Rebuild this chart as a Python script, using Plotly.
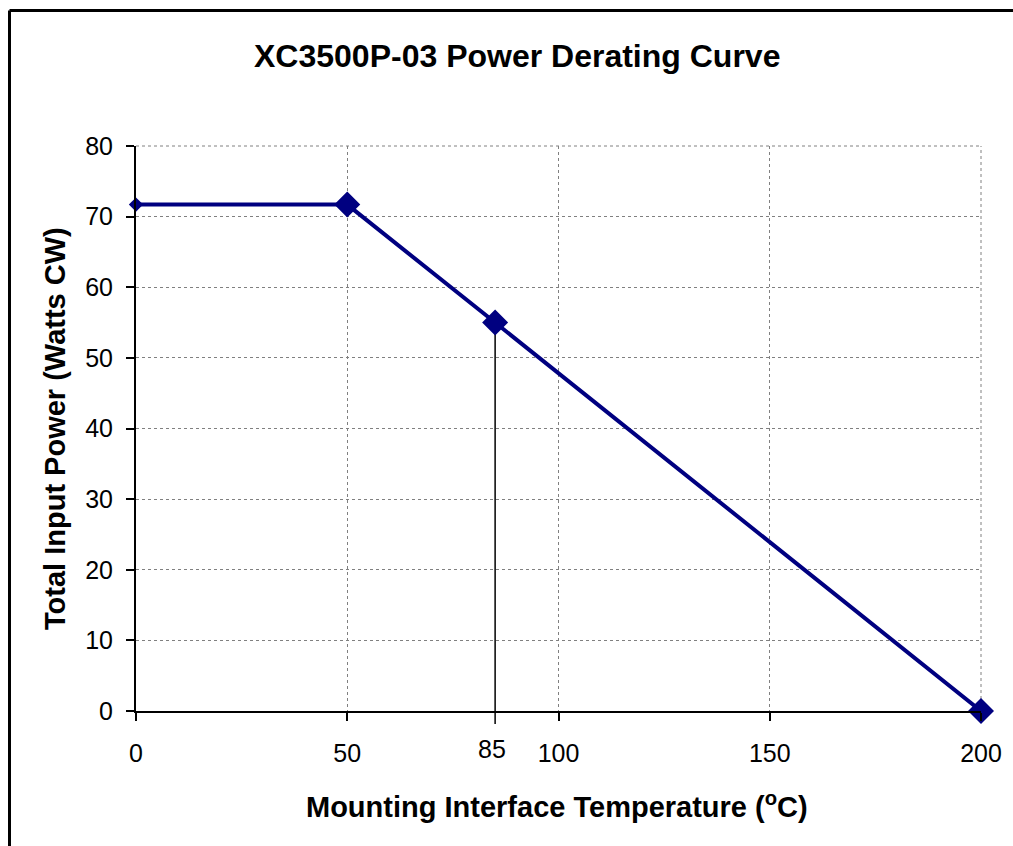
import plotly.graph_objects as go

# Data
temps = [0, 50, 85, 200]
power = [71.7, 71.7, 55.0, 0.0]
x_ticks = [0, 50, 100, 150, 200]
x_tick_labels = ["0", "50", "100", "150", "200"]
y_ticks = [0, 10, 20, 30, 40, 50, 60, 70, 80]
marker_temp = 85
marker_line_top = 56.6
x_range = [0, 200]
y_range = [0, 80]

title_text = "XC3500P-03 Power Derating Curve"
x_title = "Mounting Interface Temperature (<sup>o</sup>C)"
y_title = "Total Input Power (Watts CW)"

FONT = "Liberation Sans, Arial, sans-serif"
W, H = 1013, 846
# plot area in page pixels: x 136..981, y 146..711
L, T = 136, 146
R, B = W - 981, H - 711
PW, PH = W - L - R, H - T - B

def px_x(p):
    return (p - L) / PW

def px_y(p):
    return (H - B - p) / PH

fig = go.Figure()
fig.add_trace(go.Scatter(
    x=temps, y=power, mode="lines+markers",
    line=dict(color="#000080", width=4),
    marker=dict(symbol="diamond", color="#000080", size=[11, 20, 20, 20],
                opacity=1, line=dict(width=0)),
    cliponaxis=False, showlegend=False, hoverinfo="x+y",
))

fig.update_layout(
    width=W, height=H,
    margin=dict(l=L, r=R, t=T, b=B, autoexpand=False),
    paper_bgcolor="white", plot_bgcolor="white",
    font=dict(family=FONT, color="black", size=25),
    xaxis=dict(
        range=x_range, tickvals=x_ticks, ticktext=x_tick_labels,
        showgrid=True, gridcolor="#808080", griddash="dot", gridwidth=1,
        showline=True, linecolor="black", linewidth=2,
        ticks="outside", ticklen=8, tickwidth=1.5, tickcolor="black",
        tickfont=dict(size=25, family=FONT, color="black"),
        ticklabelstandoff=11, zeroline=False, fixedrange=True,
    ),
    yaxis=dict(
        range=y_range, tickvals=y_ticks,
        showgrid=True, gridcolor="#808080", griddash="dot", gridwidth=1,
        showline=True, linecolor="black", linewidth=2,
        ticks="outside", ticklen=8, tickwidth=1.5, tickcolor="black",
        tickfont=dict(size=25, family=FONT, color="black"),
        ticklabelstandoff=8, zeroline=False, fixedrange=True,
    ),
)

# top and right gridlines
fig.add_shape(type="line", xref="paper", yref="paper", x0=0, x1=1, y0=1, y1=1,
              line=dict(color="#808080", width=1, dash="dot"), layer="below")
fig.add_shape(type="line", xref="paper", yref="paper", x0=1, x1=1, y0=0, y1=1,
              line=dict(color="#808080", width=1, dash="dot"), layer="below")

# vertical marker line at 85
fig.add_shape(type="line", xref="x", yref="paper",
              x0=marker_temp, x1=marker_temp,
              y0=-13 / PH, y1=marker_line_top / y_range[1],
              line=dict(color="black", width=1.5), layer="below")

# outer frame (top and left edges visible), kept inside the page
fx, fy = px_x(9.5), px_y(10.5)
fig.add_shape(type="line", xref="paper", yref="paper", x0=fx, x1=fx, y0=px_y(H), y1=fy,
              line=dict(color="black", width=3))
fig.add_shape(type="line", xref="paper", yref="paper", x0=fx, x1=px_x(W), y0=fy, y1=fy,
              line=dict(color="black", width=3))

# 85 tick label
fig.add_annotation(x=marker_temp, xref="x", y=px_y(748.5), yref="paper",
                   text=str(marker_temp), showarrow=False, xanchor="center", yanchor="middle",
                   xshift=-3, font=dict(size=25, family=FONT, color="black"))

# Title
fig.add_annotation(x=px_x(516.5), y=px_y(56), xref="paper", yref="paper",
                   text="<b>" + title_text + "</b>", showarrow=False,
                   xanchor="center", yanchor="middle",
                   font=dict(size=32, family=FONT, color="black"))
# X title
fig.add_annotation(x=px_x(556.5), y=px_y(805), xref="paper", yref="paper",
                   text="<b>" + x_title + "</b>", showarrow=False,
                   xanchor="center", yanchor="middle",
                   font=dict(size=29, family=FONT, color="black"))
# Y title
fig.add_annotation(x=px_x(55), y=px_y(429), xref="paper", yref="paper",
                   text="<b>" + y_title + "</b>", showarrow=False, textangle=-90,
                   xanchor="center", yanchor="middle",
                   font=dict(size=29, family=FONT, color="black"))

fig.write_html(
    "out.html",
    config={"displayModeBar": False},
    post_script="document.body.style.margin='0';document.body.style.overflow='hidden';",
)
